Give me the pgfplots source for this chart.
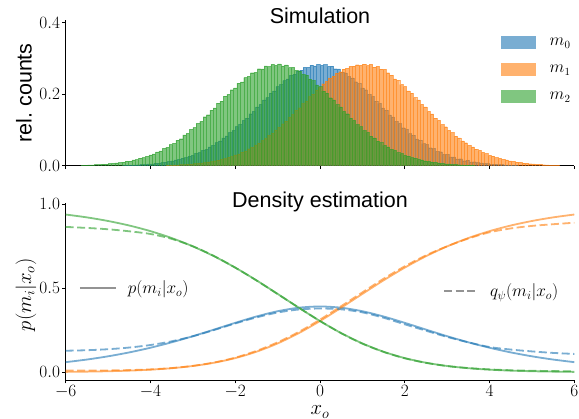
\documentclass[border=0pt]{standalone}
\usepackage{fontspec}
\newfontfamily\arial{Liberation Sans}
\usepackage{pgfplots}
\pgfplotsset{compat=1.18}

\definecolor{tabblue}{RGB}{31,119,180}
\definecolor{taborange}{RGB}{255,127,14}
\definecolor{tabgreen}{RGB}{44,160,44}

\pgfplotsset{
  panel/.style={
    scale only axis, width=508.6pt,
    xmin=-6, xmax=6, xtick={-6,-4,...,6},
    axis x line*=bottom, axis y line*=left,
    axis line style={-, line width=0.8pt},
    tick align=outside, major tick length=3.5pt,
    every tick/.style={black, line width=0.8pt},
    tick label style={font=\fontsize{17}{17}\selectfont, inner sep=2pt},
    yticklabel style={/pgf/number format/.cd, fixed, fixed zerofill, precision=1},
  },
  hist/.style={ybar, bar width=0.08, bar shift=0pt, fill=#1, draw=#1,
    fill opacity=0.6, draw opacity=0.6, line width=0.25pt,
    legend image code/.code={\fill[##1, draw=none] (0pt,-6pt) rectangle (35pt,6.5pt);}},
  pline/.style={#1, opacity=0.6, line width=1.8pt, smooth},
  qline/.style={#1, opacity=0.6, line width=1.8pt, smooth, dash pattern=on 8pt off 3.5pt},
}

\begin{document}
\begin{tikzpicture}
\path[use as bounding box] (0,0) rectangle (579pt,-419pt);

% ---------- top: simulated histograms ----------
\begin{axis}[panel,
  at={(65.7pt,-165.7pt)}, anchor=south west, height=145.7pt,
  ymin=0, ymax=0.4075, ytick={0,0.2,0.4}, xticklabels={},
  title={Simulation},
  title style={at={(axis description cs:0.5,0.935)}, anchor=base, font=\arial\fontsize{21.5}{24}\selectfont},
  ylabel={rel.\ counts},
  ylabel style={at={(axis description cs:-0.082,0.5)}, anchor=center, font=\arial\fontsize{21.5}{24}\selectfont},
  legend style={at={(axis description cs:0.855,0.89)}, anchor=north west, draw=none, fill=none,
    font=\fontsize{16}{18}\selectfont, row sep=14pt, column sep=12pt, inner sep=0pt},
  legend cell align=left,
]
\addplot[hist=tabblue] coordinates {
(-4.60,.0012)(-4.52,.0019)(-4.44,.0018)(-4.36,.0026)(-4.28,.0027)(-4.20,.0037)(-4.12,.0039)(-4.04,.0051)
(-3.96,.0053)(-3.88,.0069)(-3.80,.0073)(-3.72,.0093)(-3.64,.0099)(-3.56,.0124)(-3.48,.0132)(-3.40,.0162)
(-3.32,.0174)(-3.24,.0211)(-3.16,.0226)(-3.08,.0270)(-3.00,.0291)(-2.92,.0342)(-2.84,.0369)(-2.76,.0428)
(-2.68,.0460)(-2.60,.0529)(-2.52,.0568)(-2.44,.0647)(-2.36,.0692)(-2.28,.0780)(-2.20,.0832)(-2.12,.0928)
(-2.04,.0986)(-1.96,.1093)(-1.88,.1154)(-1.80,.1268)(-1.72,.1334)(-1.64,.1454)(-1.56,.1521)(-1.48,.1646)
(-1.40,.1714)(-1.32,.1840)(-1.24,.1906)(-1.16,.2031)(-1.08,.2092)(-1.00,.2213)(-0.92,.2268)(-0.84,.2381)
(-0.76,.2427)(-0.68,.2529)(-0.60,.2561)(-0.52,.2653)(-0.44,.2670)(-0.36,.2748)(-0.28,.2750)(-0.20,.2810)
(-0.12,.2795)(-0.04,.2837)(0.04,.2805)(0.12,.2828)(0.20,.2776)(0.28,.2783)(0.36,.2714)(0.44,.2705)
(0.52,.2619)(0.60,.2595)(0.68,.2496)(0.76,.2459)(0.84,.2348)(0.92,.2300)(1.00,.2180)(1.08,.2125)
(1.16,.1998)(1.24,.1938)(1.32,.1808)(1.40,.1745)(1.48,.1614)(1.56,.1552)(1.64,.1423)(1.72,.1364)
(1.80,.1238)(1.88,.1183)(1.96,.1063)(2.04,.1014)(2.12,.0900)(2.20,.0858)(2.28,.0752)(2.36,.0718)
(2.44,.0620)(2.52,.0594)(2.60,.0503)(2.68,.0485)(2.76,.0403)(2.84,.0393)(2.92,.0318)(3.00,.0314)
(3.08,.0246)(3.16,.0249)(3.24,.0188)(3.32,.0196)(3.40,.0140)(3.48,.0154)(3.56,.0107)(3.64,.0112)
(3.72,.0087)(3.80,.0078)(3.88,.0064)(3.96,.0058)(4.04,.0047)(4.12,.0042)(4.20,.0033)(4.28,.0030)
(4.36,.0023)(4.44,.0021)(4.52,.0016)(4.60,.0015)
};
\addlegendentry{$m_0$}
\addplot[hist=taborange] coordinates {
(-3.60,.0015)(-3.52,.0016)(-3.44,.0022)(-3.36,.0023)(-3.28,.0031)(-3.20,.0032)(-3.12,.0043)(-3.04,.0046)
(-2.96,.0059)(-2.88,.0063)(-2.80,.0079)(-2.72,.0086)(-2.64,.0106)(-2.56,.0116)(-2.48,.0141)(-2.40,.0153)
(-2.32,.0184)(-2.24,.0199)(-2.16,.0238)(-2.08,.0256)(-2.00,.0302)(-1.92,.0330)(-1.84,.0381)(-1.76,.0414)
(-1.68,.0475)(-1.60,.0512)(-1.52,.0585)(-1.44,.0629)(-1.36,.0708)(-1.28,.0762)(-1.20,.0849)(-1.12,.0908)
(-1.04,.1005)(-0.96,.1072)(-0.88,.1176)(-0.80,.1247)(-0.72,.1357)(-0.64,.1432)(-0.56,.1545)(-0.48,.1624)
(-0.40,.1737)(-0.32,.1816)(-0.24,.1932)(-0.16,.2005)(-0.08,.2119)(0.00,.2185)(0.08,.2294)(0.16,.2357)
(0.24,.2454)(0.32,.2504)(0.40,.2586)(0.48,.2629)(0.56,.2699)(0.64,.2723)(0.72,.2777)(0.80,.2788)
(0.88,.2826)(0.96,.2808)(1.04,.2841)(1.12,.2799)(1.20,.2832)(1.28,.2760)(1.36,.2780)(1.44,.2700)
(1.52,.2697)(1.60,.2602)(1.68,.2530)(1.76,.2428)(1.84,.2384)(1.92,.2270)(2.00,.2215)(2.08,.2093)
(2.16,.2033)(2.24,.1904)(2.32,.1841)(2.40,.1712)(2.48,.1647)(2.56,.1520)(2.64,.1452)(2.72,.1333)
(2.80,.1266)(2.88,.1152)(2.96,.1092)(3.04,.0985)(3.12,.0927)(3.20,.0830)(3.28,.0778)(3.36,.0692)
(3.44,.0645)(3.52,.0569)(3.60,.0527)(3.68,.0461)(3.76,.0426)(3.84,.0370)(3.92,.0340)(4.00,.0292)
(4.08,.0267)(4.16,.0228)(4.24,.0208)(4.32,.0176)(4.40,.0160)(4.48,.0134)(4.56,.0121)(4.64,.0101)
(4.72,.0090)(4.80,.0075)(4.88,.0067)(4.96,.0055)(5.04,.0049)(5.12,.0040)(5.20,.0035)(5.28,.0028)
(5.36,.0025)(5.44,.0019)(5.52,.0017)(5.60,.0014)
};
\addlegendentry{$m_1$}
\addplot[hist=tabgreen] coordinates {
(-5.60,.0016)(-5.52,.0013)(-5.44,.0022)(-5.36,.0021)(-5.28,.0033)(-5.20,.0030)(-5.12,.0045)(-5.04,.0046)
(-4.96,.0061)(-4.88,.0062)(-4.80,.0081)(-4.72,.0087)(-4.64,.0098)(-4.56,.0126)(-4.48,.0130)(-4.40,.0164)
(-4.32,.0171)(-4.24,.0213)(-4.16,.0226)(-4.08,.0259)(-4.00,.0305)(-3.92,.0328)(-3.84,.0387)(-3.76,.0412)
(-3.68,.0481)(-3.60,.0511)(-3.52,.0590)(-3.44,.0625)(-3.36,.0718)(-3.28,.0756)(-3.20,.0862)(-3.12,.0904)
(-3.04,.1015)(-2.96,.1066)(-2.88,.1183)(-2.80,.1239)(-2.72,.1371)(-2.64,.1425)(-2.56,.1556)(-2.48,.1614)
(-2.40,.1749)(-2.32,.1806)(-2.24,.1946)(-2.16,.1993)(-2.08,.2127)(-2.00,.2174)(-1.92,.2310)(-1.84,.2342)
(-1.76,.2465)(-1.68,.2497)(-1.60,.2601)(-1.52,.2612)(-1.44,.2714)(-1.36,.2708)(-1.28,.2790)(-1.20,.2771)
(-1.12,.2834)(-1.04,.2803)(-0.96,.2846)(-0.88,.2790)(-0.80,.2818)(-0.72,.2744)(-0.64,.2752)(-0.56,.2667)
(-0.48,.2655)(-0.40,.2556)(-0.32,.2531)(-0.24,.2421)(-0.16,.2382)(-0.08,.2262)(0.00,.2214)(0.08,.2089)
(0.16,.2030)(0.24,.1902)(0.32,.1839)(0.40,.1710)(0.48,.1644)(0.56,.1517)(0.64,.1455)(0.72,.1330)
(0.80,.1268)(0.88,.1150)(0.96,.1094)(1.04,.0983)(1.12,.0929)(1.20,.0828)(1.28,.0780)(1.36,.0690)
(1.44,.0646)(1.52,.0568)(1.60,.0528)(1.68,.0460)(1.76,.0427)(1.84,.0369)(1.92,.0341)(2.00,.0291)
(2.08,.0268)(2.16,.0227)(2.24,.0209)(2.32,.0175)(2.40,.0161)(2.48,.0133)(2.56,.0122)(2.64,.0100)
(2.72,.0091)(2.80,.0074)(2.88,.0068)(2.96,.0054)(3.04,.0050)(3.12,.0039)(3.20,.0036)(3.28,.0027)
(3.36,.0026)(3.44,.0018)(3.52,.0018)(3.60,.0013)
};
\addlegendentry{$m_2$}
\end{axis}

% ---------- bottom: posterior and its estimate ----------
\begin{axis}[panel,
  at={(65.7pt,-380pt)}, anchor=south west, height=177.3pt,
  ymin=-0.046, ymax=1.008, ytick={0,0.5,1},
  title={Density estimation},
  title style={at={(axis description cs:0.5,0.94)}, anchor=base, font=\arial\fontsize{21.5}{24}\selectfont},
  xlabel={$x_o$},
  xlabel style={at={(axis description cs:0.5,0)}, anchor=base, yshift=-35pt, inner sep=0pt, font=\fontsize{21}{24}\selectfont},
  ylabel={$p(m_i|x_o)$},
  ylabel style={at={(axis description cs:-0.078,0.48)}, anchor=center, font=\fontsize{21}{24}\selectfont},
  legend image code/.code={\draw[#1] (0pt,0pt) -- (36pt,0pt);},
  legend style={at={(axis description cs:0.02,0.519)}, anchor=west, draw=none, fill=none,
    font=\fontsize{17}{20}\selectfont, column sep=9pt},
]
\addlegendimage{gray, opacity=0.85, line width=1.8pt}
\addlegendentry{$p(m_i|x_o)$}
\addplot[pline=tabblue] coordinates {
(-6,.0600)(-5.5,.0756)(-5,.0948)(-4.5,.1181)(-4,.1458)(-3.5,.1780)(-3,.2144)(-2.5,.2537)(-2,.2938)
(-1.5,.3315)(-1,.3628)(-0.5,.3837)(0,.3910)(0.5,.3837)(1,.3628)(1.5,.3315)(2,.2938)(2.5,.2537)
(3,.2144)(3.5,.1780)(4,.1458)(4.5,.1181)(5,.0948)(5.5,.0756)(6,.0600)
};
\addplot[pline=taborange] coordinates {
(-6,.0023)(-5.5,.0038)(-5,.0061)(-4.5,.0097)(-4,.0154)(-3.5,.0241)(-3,.0373)(-2.5,.0566)(-2,.0842)
(-1.5,.1220)(-1,.1714)(-0.5,.2327)(0,.3045)(0.5,.3837)(1,.4658)(1.5,.5465)(2,.6220)(2.5,.6897)
(3,.7483)(3.5,.7979)(4,.8389)(4.5,.8723)(5,.8992)(5.5,.9207)(6,.9377)
};
\addplot[pline=tabgreen] coordinates {
(-6,.9377)(-5.5,.9207)(-5,.8992)(-4.5,.8723)(-4,.8389)(-3.5,.7979)(-3,.7483)(-2.5,.6897)(-2,.6220)
(-1.5,.5465)(-1,.4658)(-0.5,.3837)(0,.3045)(0.5,.2327)(1,.1714)(1.5,.1220)(2,.0842)(2.5,.0566)
(3,.0373)(3.5,.0241)(4,.0154)(4.5,.0097)(5,.0061)(5.5,.0038)(6,.0023)
};
\addplot[qline=tabblue] coordinates {
(-6,.128)(-5.5,.131)(-5,.137)(-4.5,.147)(-4,.162)(-3.5,.184)(-3,.214)(-2.5,.251)(-2,.290)
(-1.5,.326)(-1,.355)(-0.5,.373)(0,.379)(0.5,.374)(1,.356)(1.5,.324)(2,.285)(2.5,.247)
(3,.210)(3.5,.178)(4,.150)(4.5,.135)(5,.124)(5.5,.115)(6,.109)
};
\addplot[qline=taborange] coordinates {
(-6,.010)(-5.5,.010)(-5,.011)(-4.5,.013)(-4,.017)(-3.5,.025)(-3,.038)(-2.5,.058)(-2,.087)
(-1.5,.127)(-1,.178)(-0.5,.240)(0,.313)(0.5,.393)(1,.475)(1.5,.556)(2,.630)(2.5,.695)
(3,.749)(3.5,.795)(4,.832)(4.5,.855)(5,.870)(5.5,.880)(6,.889)
};
\addplot[qline=tabgreen] coordinates {
(-6,.864)(-5.5,.858)(-5,.850)(-4.5,.838)(-4,.822)(-3.5,.793)(-3,.749)(-2.5,.691)(-2,.622)
(-1.5,.546)(-1,.465)(-0.5,.384)(0,.305)(0.5,.232)(1,.170)(1.5,.121)(2,.083)(2.5,.056)
(3,.037)(3.5,.025)(4,.017)(4.5,.012)(5,.009)(5.5,.007)(6,.006)
};
\end{axis}

% second legend of the bottom panel
\begin{axis}[
  at={(65.7pt,-380pt)}, anchor=south west, scale only axis,
  width=508.6pt, height=177.3pt, hide axis,
  xmin=-6, xmax=6, ymin=0, ymax=1,
  legend image code/.code={\draw[#1] (0pt,0pt) -- (34pt,0pt);},
  legend style={at={(axis description cs:0.736,0.502)}, anchor=west, draw=none, fill=none,
    font=\fontsize{17}{20}\selectfont, column sep=9pt},
]
\addlegendimage{gray, opacity=0.85, line width=1.8pt, dash pattern=on 8pt off 3.5pt}
\addlegendentry{$q_\psi(m_i|x_o)$}
\end{axis}
\end{tikzpicture}
\end{document}
